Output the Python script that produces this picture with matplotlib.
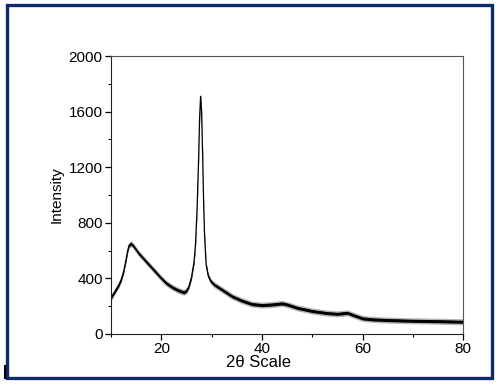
import matplotlib
matplotlib.use("Agg")
import matplotlib.pyplot as plt
from matplotlib.patches import Rectangle
from matplotlib.ticker import MultipleLocator

plt.rcParams['font.family'] = ['Liberation Sans', 'DejaVu Sans']

two_theta = [10, 10.5, 11, 11.5, 12, 12.5, 13, 13.3, 13.6, 14, 14.5, 15, 15.5, 16, 17, 18, 19, 20,
             21, 22, 23, 24, 24.5, 25, 25.5, 26, 26.5, 26.8, 27.1, 27.4, 27.6, 27.8, 28.0, 28.2,
             28.4, 28.6, 28.9, 29.3, 29.8, 30.5, 32, 34, 36, 38, 40, 42, 44, 45, 47, 50, 53, 55,
             57, 58, 60, 62, 65, 70, 75, 80]
intensity = [260, 290, 320, 350, 390, 450, 540, 600, 640, 650, 630, 605, 580, 560, 520, 480, 440, 400,
             365, 340, 320, 305, 300, 310, 345, 410, 520, 650, 900, 1250, 1550, 1710, 1600, 1300,
             950, 700, 500, 420, 380, 355, 320, 272, 240, 215, 208, 212, 220, 212, 188, 165, 150, 145,
             152, 138, 112, 105, 100, 95, 92, 88]
core_halfwidth = 11
fringe_halfwidth = 22

fig = plt.figure(figsize=(4.98, 3.85), dpi=100)
ax = fig.add_axes([0.223, 0.1325, 0.707, 0.722])

ax.fill_between(two_theta, [v - fringe_halfwidth for v in intensity],
                [v + fringe_halfwidth for v in intensity], color='#888888', alpha=0.6, linewidth=0)
ax.fill_between(two_theta, [v - core_halfwidth for v in intensity],
                [v + core_halfwidth for v in intensity], color='black', linewidth=0)
ax.plot(two_theta, intensity, color='black', linewidth=0.9)

ax.set_xlim(10, 80)
ax.set_ylim(0, 2000)
ax.xaxis.set_major_locator(MultipleLocator(20))
ax.xaxis.set_minor_locator(MultipleLocator(10))
ax.yaxis.set_major_locator(MultipleLocator(400))
ax.yaxis.set_minor_locator(MultipleLocator(200))
ax.tick_params(which='major', direction='out', length=4, width=0.9, labelsize=11, pad=2)
ax.tick_params(which='minor', direction='out', length=2.5, width=0.8)
ax.tick_params(top=False, right=False)
for s in ['top', 'right']:
    ax.spines[s].set_color('#555555')
for s in ['left', 'bottom']:
    ax.spines[s].set_color('#222222')
ax.set_xlabel('2θ Scale', fontsize=12)
ax.xaxis.set_label_coords((258 - 111) / 352, -0.075)
ax.set_ylabel('Intensity', fontsize=11, labelpad=4)

fig.patches.append(Rectangle((6.5 / 498, 1 - 377.5 / 385), 485 / 498, 372.5 / 385,
                             transform=fig.transFigure, fill=False,
                             edgecolor='#0f2a68', linewidth=2.4))
fig.add_artist(plt.Line2D([4.5 / 498, 4.5 / 498], [1 - 378 / 385, 1 - 366 / 385],
                          transform=fig.transFigure, color='black', linewidth=1.5))

fig.savefig('out.png', dpi=100)
